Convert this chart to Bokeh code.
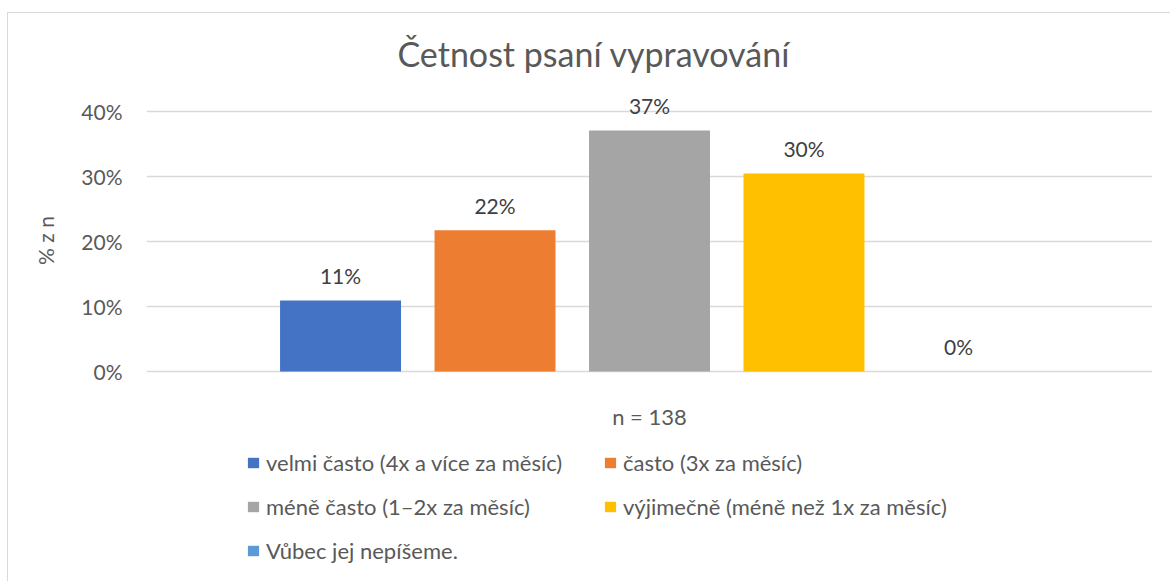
from bokeh.plotting import figure
from bokeh.layouts import column
from bokeh.models import (ColumnDataSource, Range1d, FixedTicker, NumeralTickFormatter,
                          LabelSet, Legend, LegendItem)
from bokeh.core.properties import value
from bokeh.embed import file_html
from bokeh.resources import INLINE

# ---- data ----
title_text = "Četnost psaní vypravování"
category = "n = 138"
series = ["velmi často (4x a více za měsíc)",
          "často (3x za měsíc)",
          "méně často (1–2x za měsíc)",
          "výjimečně (méně než 1x za měsíc)",
          "Vůbec jej nepíšeme."]
shares = [0.109, 0.217, 0.370, 0.304, 0.0]
colors = ["#4472C4", "#ED7D31", "#A5A5A5", "#FFC000", "#5B9BD5"]
y_ticks = [0, 0.1, 0.2, 0.3, 0.4]
y_label = "% z n"

FONT = "Lato"
TXT = "#595959"

n = len(series)
xs = [i - (n - 1) / 2 for i in range(n)]
labels = [f"{round(v * 100):.0f}%" for v in shares]
src = ColumnDataSource(dict(x=xs, top=shares, series=series, color=colors, label=labels))

# ---- main chart ----
p = figure(width=1162, height=427, output_backend="svg", toolbar_location=None,
           x_range=Range1d(-3.256, 3.256), y_range=Range1d(-0.0475, 0.45),
           min_border_left=138, min_border_right=18, min_border_top=65,
           min_border_bottom=38)
p.outline_line_color = None
p.background_fill_color = "white"
p.border_fill_color = "white"

bars = p.vbar(x="x", top="top", bottom=0, width=0.783, fill_color="color",
              line_color=None, source=src)

# title
p.title.text = title_text
p.title.align = "left"
p.title.offset = 251
p.title.text_font = FONT
p.title.text_font_size = "34px"
p.title.text_font_style = "normal"
p.title.text_color = TXT
p.title.standoff = 9

# grid
p.xgrid.visible = False
p.ygrid.ticker = FixedTicker(ticks=y_ticks)
p.ygrid.grid_line_color = "#d9d9d9"
p.ygrid.grid_line_width = 1.5

# y axis
p.yaxis.ticker = FixedTicker(ticks=y_ticks)
p.yaxis.formatter = NumeralTickFormatter(format="0%")
p.yaxis.axis_line_color = None
p.yaxis.major_tick_line_color = None
p.yaxis.major_tick_out = 0
p.yaxis.major_tick_in = 0
p.yaxis.minor_tick_line_color = None
p.yaxis.major_label_standoff = 24
p.yaxis.major_label_text_font = FONT
p.yaxis.major_label_text_font_size = "21px"
p.yaxis.major_label_text_color = TXT
p.yaxis.axis_label = y_label
p.yaxis.axis_label_text_font = FONT
p.yaxis.axis_label_text_font_size = "21px"
p.yaxis.axis_label_text_font_style = "normal"
p.yaxis.axis_label_text_color = TXT
p.yaxis.axis_label_standoff = 20

# x axis
p.xaxis.ticker = FixedTicker(ticks=[0])
p.xaxis.major_label_overrides = {0: category}
p.xaxis.axis_line_color = None
p.xaxis.major_tick_line_color = None
p.xaxis.major_tick_out = 0
p.xaxis.major_tick_in = 0
p.xaxis.minor_tick_line_color = None
p.xaxis.major_label_standoff = 0
p.xaxis.major_label_text_font = FONT
p.xaxis.major_label_text_font_size = "22px"
p.xaxis.major_label_text_color = TXT

# data labels
p.add_layout(LabelSet(x="x", y="top", text="label", source=src, y_offset=25,
                      text_align="center", text_baseline="middle",
                      text_font=value(FONT), text_font_size="21px",
                      text_color="#404040"))

# ---- legend strip (frame aligned with the chart frame) ----
q = figure(width=1162, height=141, output_backend="svg", toolbar_location=None,
           x_range=p.x_range, y_range=Range1d(5, 6),
           x_axis_type=None, y_axis_type=None,
           min_border_left=0, min_border_right=0, min_border_top=0, min_border_bottom=0)
q.outline_line_color = None
q.xgrid.visible = False
q.ygrid.visible = False
q.background_fill_color = "white"
q.border_fill_color = "white"

keys = q.vbar(x="x", top="top", bottom=0, width=0.783, fill_color="color",
              line_color=None, source=src)
items = [LegendItem(label=s, renderers=[keys], index=i) for i, s in enumerate(series)]

legend = Legend(items=items, location=(100, 17), orientation="horizontal", ncols=2,
                label_width=320, glyph_width=14, glyph_height=13, label_standoff=6,
                spacing=17, padding=0, margin=0, border_line_color=None,
                background_fill_alpha=0, label_text_font=FONT,
                label_text_font_size="22px", label_text_color=TXT)
q.add_layout(legend, "center")

layout = column(p, q, spacing=0,
                styles={"margin-left": "7px", "margin-top": "12px",
                        "border-left": "1px solid #d9d9d9",
                        "border-top": "1px solid #d9d9d9"})

open("out.html", "w").write(file_html(layout, INLINE))
